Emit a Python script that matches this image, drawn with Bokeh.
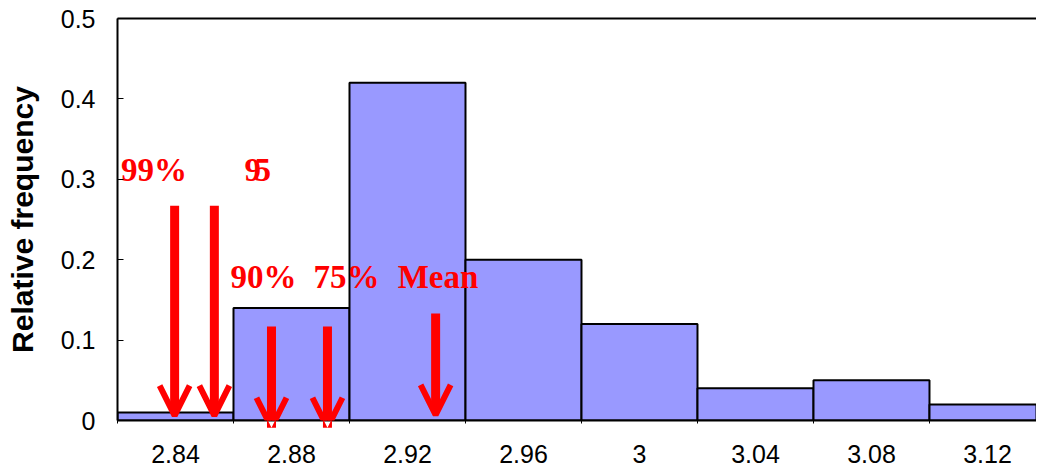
from bokeh.plotting import figure
from bokeh.models import (Range1d, FixedTicker, LinearAxis, Arrow, OpenHead,
                          ColumnDataSource)
from bokeh.core.properties import value
from bokeh.embed import file_html
from bokeh.resources import INLINE
import numpy as np

# ---- data ----
bin_centers = [2.84, 2.88, 2.92, 2.96, 3.00, 3.04, 3.08, 3.12]
bin_width = 0.04
rel_freq = [0.01, 0.14, 0.42, 0.20, 0.12, 0.04, 0.05, 0.02]
x_tick_labels = ["2.84", "2.88", "2.92", "2.96", "3", "3.04", "3.08", "3.12"]
y_tick_values = [0, 0.1, 0.2, 0.3, 0.4, 0.5]
y_tick_labels = ["0", "0.1", "0.2", "0.3", "0.4", "0.5"]

# marker arrows (quantile / mean values)
marker_names = ["99%", "95%", "90%", "75%", "Mean"]
marker_values = [2.8397, 2.8534, 2.8731, 2.8924, 2.9297]
arrow_top = [0.267, 0.267, 0.117, 0.117, 0.133]
arrow_tip = [0.006, 0.006, -0.009, -0.009, 0.007]

# annotation texts
label_texts = ["99%", "9", "5", "90%", "75%", "Mean"]
label_x = [2.8212, 2.8638, 2.8672, 2.8590, 2.8876, 2.9166]
label_y = [0.312, 0.312, 0.312, 0.178, 0.178, 0.178]

edges = list(np.round(np.array(bin_centers) - bin_width / 2, 4)) + [bin_centers[-1] + bin_width / 2]

p = figure(width=1036, height=472, output_backend="svg", toolbar_location=None,
           x_range=Range1d(edges[0], 3.1369), y_range=Range1d(0, 0.5),
           min_border_left=117, min_border_right=0, min_border_top=18,
           min_border_bottom=52, background_fill_color="white",
           border_fill_color="white", outline_line_color=None)
p.grid.visible = False

p.vbar(x=bin_centers, width=bin_width, top=rel_freq, bottom=0,
       fill_color="#9999FF", line_color="black", line_width=2)

# arrows
asrc = ColumnDataSource(dict(x0=marker_values, y0=arrow_top,
                             x1=marker_values, y1=arrow_tip))
p.add_layout(Arrow(source=asrc, x_start="x0", y_start="y0", x_end="x1", y_end="y1",
                   line_color="#FF0000", line_width=9,
                   end=OpenHead(size=30, line_color="#FF0000", line_width=6)))

p.text(x=label_x, y=label_y, text=label_texts, text_color="#FF0000",
       text_font=value("Liberation Serif"), text_font_style="bold",
       text_font_size="33px", text_baseline="alphabetic", text_align="left")

# axes
xa = p.xaxis[0]
xa.ticker = FixedTicker(ticks=bin_centers, minor_ticks=edges)
xa.major_label_overrides = {c: l for c, l in zip(bin_centers, x_tick_labels)}
xa.major_tick_out = 0
xa.major_tick_in = 0
xa.minor_tick_out = 3
xa.minor_tick_in = 0
xa.minor_tick_line_color = "black"
xa.axis_line_width = 2
xa.axis_line_color = "black"
xa.major_label_text_font = "Liberation Sans"
xa.major_label_text_font_size = "25px"
xa.major_label_text_color = "black"
xa.major_label_standoff = 21

ya = p.yaxis[0]
ya.ticker = FixedTicker(ticks=y_tick_values)
ya.major_label_overrides = {v: l for v, l in zip(y_tick_values, y_tick_labels)}
ya.major_tick_in = 6
ya.major_tick_out = 0
ya.minor_tick_line_color = None
ya.axis_line_width = 2
ya.axis_line_color = "black"
ya.major_label_text_font = "Liberation Sans"
ya.major_label_text_font_size = "25px"
ya.major_label_text_color = "black"
ya.major_label_standoff = 22
ya.axis_label = "Relative frequency"
ya.axis_label_text_font = "Liberation Sans"
ya.axis_label_text_font_style = "bold"
ya.axis_label_text_font_size = "30px"
ya.axis_label_text_color = "black"
ya.axis_label_standoff = 19

top_axis = LinearAxis(ticker=FixedTicker(ticks=[]), major_tick_out=0, major_tick_in=0,
                      minor_tick_line_color=None, major_label_standoff=0,
                      axis_line_width=2, axis_line_color="black")
p.add_layout(top_axis, "above")

open("out.html", "w").write(file_html(p, INLINE))
